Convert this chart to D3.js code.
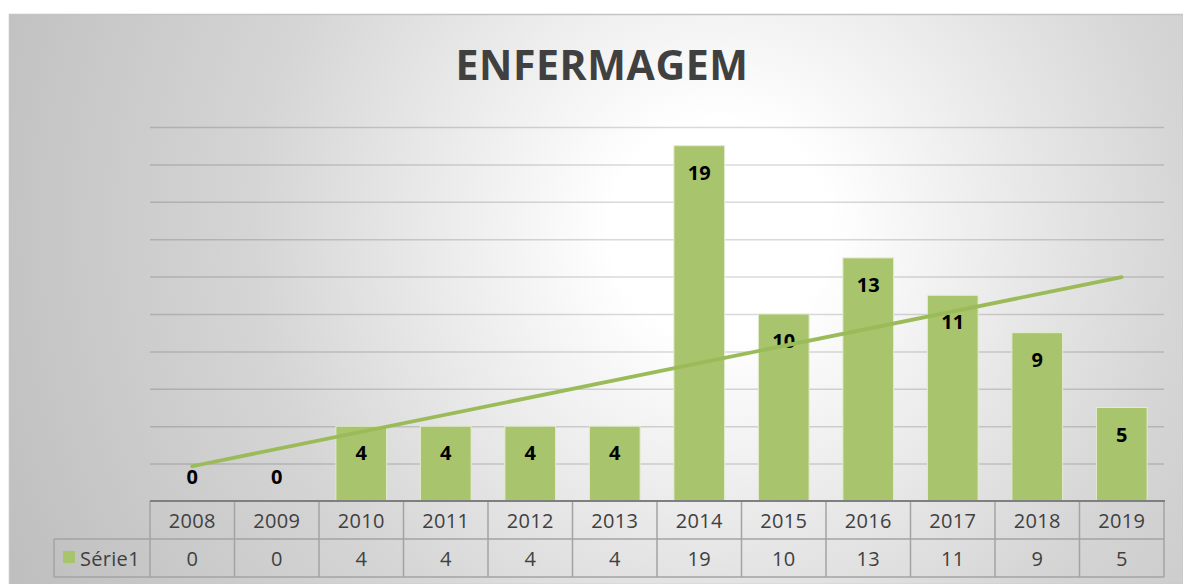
<!DOCTYPE html>
<html>
<head>
<meta charset="utf-8">
<script src="https://cdn.jsdelivr.net/npm/d3@7"></script>
<style>
  body { margin: 0; background: #ffffff; }
  svg { display: block; }
</style>
</head>
<body>
<svg id="chart" width="1183" height="584"></svg>
<script>
// ---- data ----
const title = "ENFERMAGEM";
const seriesName = "Série1";
const categories = ["2008","2009","2010","2011","2012","2013","2014","2015","2016","2017","2018","2019"];
const values = [0, 0, 4, 4, 4, 4, 19, 10, 13, 11, 9, 5];
const yTicks = [0, 2, 4, 6, 8, 10, 12, 14, 16, 18, 20];

// ---- layout ----
const W = 1183, H = 584;
const frame = { x: 9, y: 14, w: W - 9, h: H - 14 };
const plot = { left: 150, right: 1164, top: 127, bottom: 501 };
const rowH = 38;
const legendLeft = 54;

const svg = d3.select("#chart");
const defs = svg.append("defs");
const grad = defs.append("radialGradient")
  .attr("id", "bg").attr("gradientUnits", "userSpaceOnUse")
  .attr("cx", 720).attr("cy", 230).attr("r", 780)
  .attr("fx", 720).attr("fy", 230);
grad.append("stop").attr("offset", 0).attr("stop-color", "#ffffff");
grad.append("stop").attr("offset", 0.14).attr("stop-color", "#ffffff");
grad.append("stop").attr("offset", 0.6).attr("stop-color", "#d5d5d5");
grad.append("stop").attr("offset", 1).attr("stop-color", "#bfbfbf");

svg.append("rect")
  .attr("x", frame.x + 0.5).attr("y", frame.y + 0.5)
  .attr("width", frame.w).attr("height", frame.h)
  .attr("fill", "url(#bg)")
  .attr("stroke", "#c4c4c4").attr("stroke-width", 1.5);

// title
svg.append("text")
  .attr("x", 602).attr("y", 80)
  .attr("text-anchor", "middle")
  .attr("font-family", "'Open Sans', sans-serif")
  .attr("font-weight", 700)
  .attr("font-size", 41)
  .attr("letter-spacing", 0.6)
  .attr("fill", "#404040")
  .text(title);

// scales
const x = d3.scaleBand().domain(categories)
  .range([plot.left, plot.right]).paddingInner(0.4).paddingOuter(0.2);
const y = d3.scaleLinear().domain([0, 20]).range([plot.bottom, plot.top]);
const step = x.step();
const colLeft = c => x(c) - x.paddingInner() * step / 2;

// gridlines
const yAxis = d3.axisLeft(y).tickValues(yTicks.filter(t => t > 0))
  .tickSize(-(plot.right - plot.left)).tickFormat("");
const gAxis = svg.append("g").attr("transform", `translate(${plot.left},0)`).call(yAxis);
gAxis.select(".domain").remove();
gAxis.selectAll(".tick line")
  .attr("stroke", "#000").attr("stroke-opacity", 0.15).attr("stroke-width", 1.5);

// bars
svg.append("g").selectAll("rect").data(values).join("rect")
  .attr("x", (d, i) => x(categories[i]))
  .attr("width", x.bandwidth())
  .attr("y", d => y(d))
  .attr("height", d => y(0) - y(d))
  .attr("fill", "#a8c46c")
  .attr("stroke", "#e3ecd0").attr("stroke-width", 1);

// data labels
svg.append("g").selectAll("text").data(values).join("text")
  .attr("x", (d, i) => x(categories[i]) + x.bandwidth() / 2)
  .attr("y", d => d > 0 ? y(d) + 34 : y(0) - 17)
  .attr("text-anchor", "middle")
  .attr("font-family", "'Open Sans', sans-serif")
  .attr("font-weight", 700).attr("font-size", 20)
  .attr("fill", "#000")
  .text(d => d);

// trendline (linear regression), drawn over the labels
const n = values.length;
const xs = values.map((d, i) => i + 1);
const mx = d3.mean(xs), my = d3.mean(values);
const slope = d3.sum(xs.map((xi, i) => (xi - mx) * (values[i] - my))) / d3.sum(xs.map(xi => (xi - mx) ** 2));
const icpt = my - slope * mx;
const trend = [
  [x(categories[0]) + x.bandwidth() / 2, y(icpt + slope * 1)],
  [x(categories[n - 1]) + x.bandwidth() / 2, y(icpt + slope * n)]
];
svg.append("path")
  .attr("d", d3.line()(trend))
  .attr("stroke", "#9bbb59").attr("stroke-width", 3.8)
  .attr("fill", "none").attr("stroke-linecap", "round");

// data table
const tbl = svg.append("g");
const lineColor = "#a3a3a3";
const r1 = plot.bottom, r2 = plot.bottom + rowH, r3 = plot.bottom + 2 * rowH;
tbl.append("line").attr("x1", legendLeft).attr("x2", plot.right).attr("y1", r2).attr("y2", r2)
  .attr("stroke", lineColor).attr("stroke-width", 1.5);
tbl.append("line").attr("x1", legendLeft).attr("x2", plot.right).attr("y1", r3).attr("y2", r3)
  .attr("stroke", lineColor).attr("stroke-width", 1.5);
tbl.append("line").attr("x1", legendLeft).attr("x2", legendLeft).attr("y1", r2).attr("y2", r3)
  .attr("stroke", lineColor).attr("stroke-width", 1.5);
const seps = categories.map(c => colLeft(c)).concat([plot.right]);
tbl.selectAll("line.sep").data(seps).join("line").attr("class", "sep")
  .attr("x1", d => d).attr("x2", d => d).attr("y1", r1).attr("y2", r3)
  .attr("stroke", lineColor).attr("stroke-width", 1.5);
tbl.append("line").attr("x1", plot.left).attr("x2", plot.right + 1).attr("y1", r1).attr("y2", r1)
  .attr("stroke", "#7f7f7f").attr("stroke-width", 2);

const tFont = 20, tSpacing = 0.3;
tbl.selectAll("text.cat").data(categories).join("text").attr("class", "cat")
  .attr("x", c => x(c) + x.bandwidth() / 2).attr("y", r1 + 27)
  .attr("text-anchor", "middle")
  .attr("font-family", "'Open Sans', sans-serif").attr("font-size", tFont)
  .attr("letter-spacing", tSpacing)
  .attr("fill", "#404040").text(c => c);
tbl.selectAll("text.val").data(values).join("text").attr("class", "val")
  .attr("x", (d, i) => x(categories[i]) + x.bandwidth() / 2).attr("y", r2 + 27)
  .attr("text-anchor", "middle")
  .attr("font-family", "'Open Sans', sans-serif").attr("font-size", tFont)
  .attr("letter-spacing", tSpacing)
  .attr("fill", "#404040").text(d => d);
tbl.append("rect").attr("x", 63).attr("y", r2 + 12).attr("width", 12).attr("height", 12)
  .attr("fill", "#a8c46c");
tbl.append("text").attr("x", 80).attr("y", r2 + 27)
  .attr("font-family", "'Open Sans', sans-serif").attr("font-size", tFont)
  .attr("letter-spacing", tSpacing)
  .attr("fill", "#404040").text(seriesName);
</script>
</body>
</html>
